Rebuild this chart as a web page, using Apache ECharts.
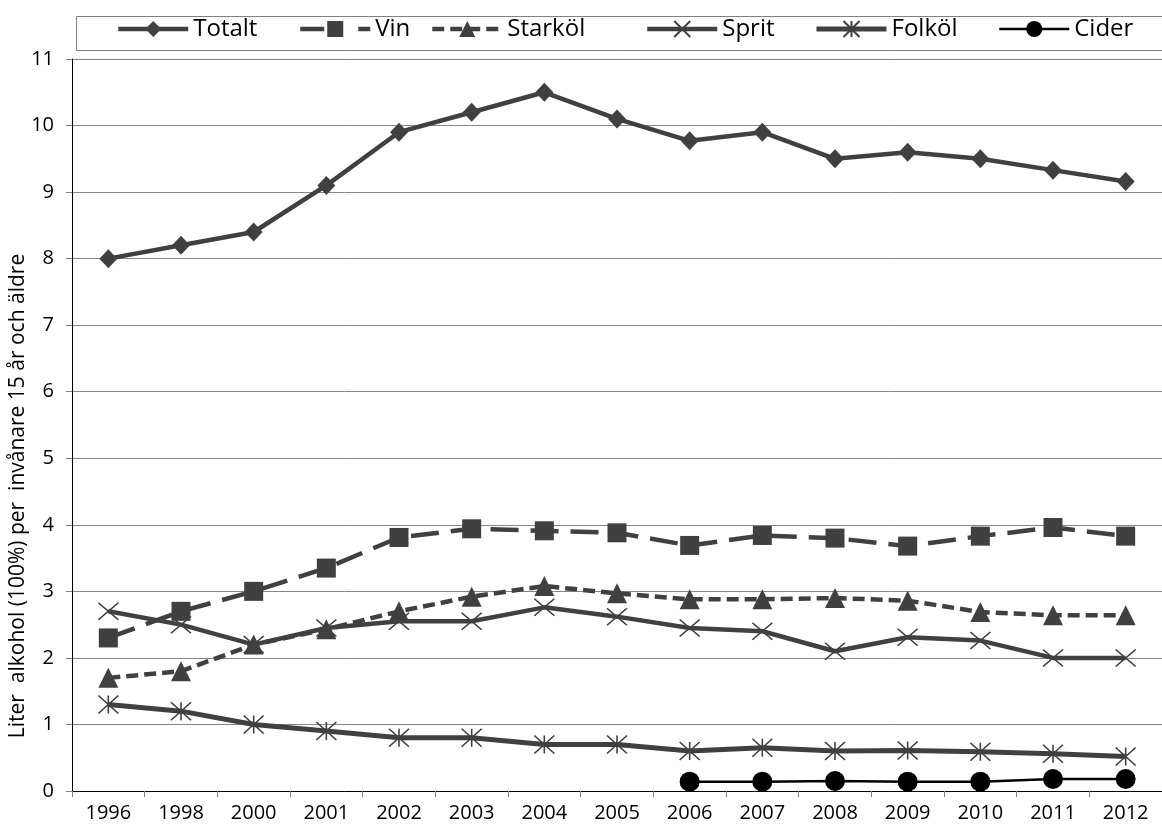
<!DOCTYPE html>
<html>
<head>
<meta charset="utf-8">
<script src="https://cdn.jsdelivr.net/npm/echarts@6/dist/echarts.min.js"></script>
<style>html,body{margin:0;padding:0;background:#fff;}#c{width:1162px;height:829px;}</style>
</head>
<body>
<div id="c"></div>
<script>
const years = ['1996','1998','2000','2001','2002','2003','2004','2005','2006','2007','2008','2009','2010','2011','2012'];
const totalt = [8.0, 8.2, 8.4, 9.1, 9.9, 10.2, 10.5, 10.1, 9.77, 9.9, 9.5, 9.6, 9.5, 9.33, 9.16];
const vin = [2.3, 2.7, 3.0, 3.35, 3.81, 3.94, 3.91, 3.88, 3.69, 3.84, 3.8, 3.68, 3.83, 3.96, 3.83];
const starkol = [1.7, 1.8, 2.2, 2.43, 2.7, 2.92, 3.08, 2.97, 2.88, 2.88, 2.9, 2.86, 2.69, 2.64, 2.64];
const sprit = [2.7, 2.5, 2.2, 2.45, 2.55, 2.55, 2.76, 2.62, 2.45, 2.4, 2.1, 2.31, 2.26, 2.0, 2.0];
const folkol = [1.3, 1.2, 1.0, 0.9, 0.8, 0.8, 0.7, 0.7, 0.6, 0.65, 0.6, 0.61, 0.59, 0.56, 0.52];
const cider = [null, null, null, null, null, null, null, null, 0.14, 0.14, 0.15, 0.14, 0.14, 0.18, 0.18];
const seriesNames = ['Totalt', 'Vin', 'Starköl', 'Sprit', 'Folköl', 'Cider'];
const yTicks = {min: 0, max: 11, interval: 1};
const yName = 'Liter  alkohol (100%) per  invånare 15 år och äldre';

const FONT = 'Open Sans';
const GREY = '#404040';
const xPath = 'path://M0 0 L20 17 M20 0 L0 17';
const starPath = 'path://M0 0 L20 18 M20 0 L0 18 M10 0 L10 18';

const lineStyles = [
  {color: GREY, width: 4.5},
  {color: GREY, width: 4.5, type: [28, 12]},
  {color: GREY, width: 4.5, type: [12, 6]},
  {color: GREY, width: 4.5},
  {color: GREY, width: 5},
  {color: '#000', width: 2.5}
];
const legendLineStyles = lineStyles.map((s, i) => i === 1 ? Object.assign({}, s, {type: [24, 34]}) : s);

const chart = echarts.init(document.getElementById('c'));
const legendLefts = [116, 298, 430, 645, 814, 998];
chart.setOption({
  animation: false,
  backgroundColor: '#fff',
  graphic: [{
    type: 'rect', left: 74, top: 14,
    shape: {width: 1100, height: 34},
    style: {fill: 'none', stroke: '#808080', lineWidth: 1}
  }, {
    type: 'text', x: 18, y: 496, rotation: Math.PI / 2,
    style: {text: yName, fontFamily: FONT, fontSize: 21, fill: '#000', align: 'center', verticalAlign: 'middle'}
  }],
  legend: seriesNames.map((n, i) => ({
    data: [n], left: legendLefts[i], top: 17,
    itemWidth: 70, itemHeight: 20, itemGap: 0,
    lineStyle: legendLineStyles[i],
    textStyle: {fontFamily: FONT, fontSize: 24, color: '#000'},
    padding: 0
  })),
  grid: {left: 72, right: -7, top: 59, bottom: 38, containLabel: false},
  xAxis: {
    type: 'category', data: years, boundaryGap: true,
    axisLine: {lineStyle: {color: '#000', width: 1}},
    axisTick: {show: true, length: 6, lineStyle: {color: '#808080'}},
    axisLabel: {fontFamily: FONT, fontSize: 20, color: '#000', margin: 12}
  },
  yAxis: {
    type: 'value', min: yTicks.min, max: yTicks.max, interval: yTicks.interval,
    axisLine: {show: true, lineStyle: {color: '#000', width: 1}},
    axisTick: {show: true, length: 6, lineStyle: {color: '#808080'}},
    axisLabel: {fontFamily: FONT, fontSize: 20, color: '#000', margin: 18},
    splitLine: {lineStyle: {color: '#868686', width: 1}}
  },
  series: [
    {name: 'Totalt', type: 'line', data: totalt, symbol: 'diamond', symbolSize: [18, 19],
     itemStyle: {color: GREY}, lineStyle: lineStyles[0], showAllSymbol: true},
    {name: 'Vin', type: 'line', data: vin, symbol: 'rect', symbolSize: 19,
     itemStyle: {color: GREY}, lineStyle: lineStyles[1], showAllSymbol: true},
    {name: 'Starköl', type: 'line', data: starkol, symbol: 'triangle', symbolSize: 20,
     itemStyle: {color: GREY}, lineStyle: lineStyles[2], showAllSymbol: true},
    {name: 'Sprit', type: 'line', data: sprit, symbol: xPath, symbolSize: [20, 17], symbolKeepAspect: false,
     itemStyle: {color: 'none', borderColor: GREY, borderWidth: 1.5}, lineStyle: lineStyles[3], showAllSymbol: true},
    {name: 'Folköl', type: 'line', data: folkol, symbol: starPath, symbolSize: [20, 18], symbolKeepAspect: false,
     itemStyle: {color: 'none', borderColor: GREY, borderWidth: 1.5}, lineStyle: lineStyles[4], showAllSymbol: true},
    {name: 'Cider', type: 'line', data: cider, symbol: 'circle', symbolSize: 20,
     itemStyle: {color: '#000'}, lineStyle: lineStyles[5], showAllSymbol: true}
  ]
});
</script>
</body>
</html>
